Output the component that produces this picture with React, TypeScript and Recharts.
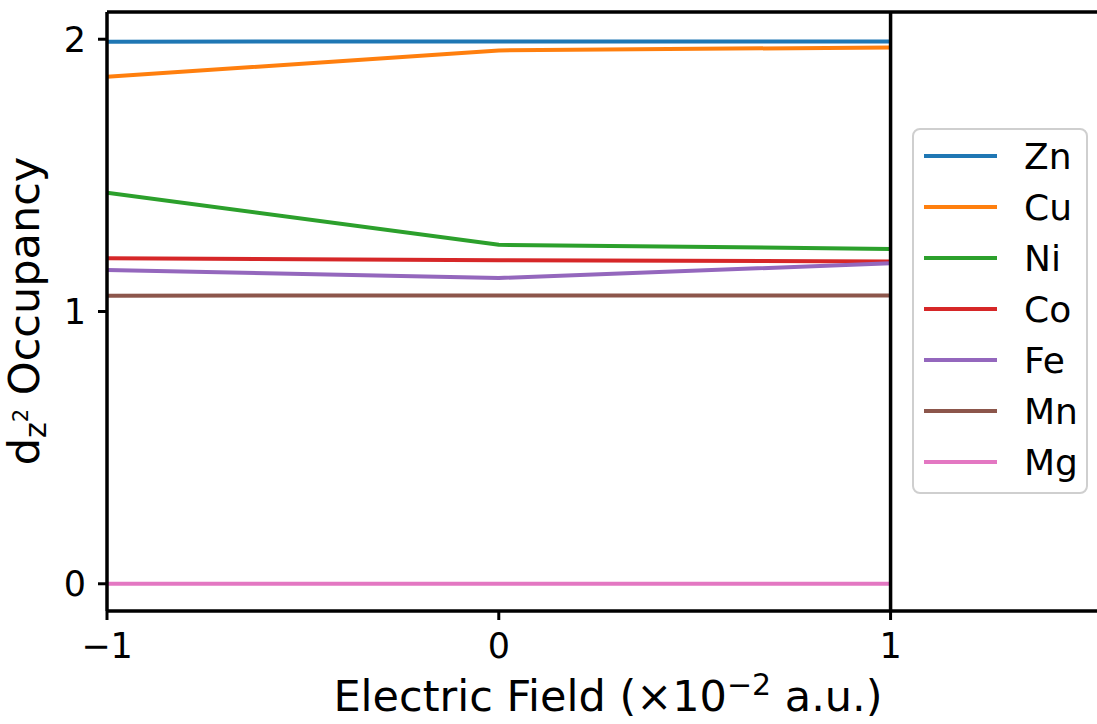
import React from 'react';
import { LineChart, Line, XAxis, YAxis, ReferenceLine, Legend } from 'recharts';

const fields = [-1, 0, 1];
const seriesNames = ['Zn', 'Cu', 'Ni', 'Co', 'Fe', 'Mn', 'Mg'];
const colors = ['#1f77b4', '#ff7f0e', '#2ca02c', '#d62728', '#9467bd', '#8c564b', '#e377c2'];
const Zn = [1.991, 1.992, 1.992];
const Cu = [1.862, 1.959, 1.970];
const Ni = [1.436, 1.245, 1.230];
const Co = [1.196, 1.188, 1.184];
const Fe = [1.152, 1.123, 1.177];
const Mn = [1.058, 1.059, 1.059];
const Mg = [0.0, 0.0, 0.0];
const xTicks = [-1, 0, 1];
const yTicks = [0, 1, 2];
const seriesValues = [Zn, Cu, Ni, Co, Fe, Mn, Mg];

const data = fields.map((f, i) => {
  const row: any = { x: f };
  seriesNames.forEach((n, k) => {
    row[n] = seriesValues[k][i];
  });
  return row;
});

const FONT = 'DejaVu Sans, sans-serif';

const XLabel = (props: any) => {
  const vb = props.viewBox || { x: 107, y: 611 };
  return (
    <text x={vb.x + 501} y={vb.y + 100} textAnchor="middle" fontFamily={FONT} fontSize={43} fill="#000">
      <tspan>Electric Field (×10</tspan>
      <tspan fontSize={30} dy={-16}>−2</tspan>
      <tspan dy={16}> a.u.)</tspan>
    </text>
  );
};

const YLabel = (props: any) => {
  const cx = 39;
  const cy = 311;
  return (
    <text
      x={cx}
      y={cy}
      transform={`rotate(-90, ${cx}, ${cy})`}
      textAnchor="middle"
      fontFamily={FONT}
      fontSize={43}
      fill="#000"
    >
      <tspan>d</tspan>
      <tspan fontSize={30} dy={7}>z</tspan>
      <tspan fontSize={21} dy={-18}>2</tspan>
      <tspan dy={11}> Occupancy</tspan>
    </text>
  );
};

const LegendBox = () => (
  <div
    style={{
      width: 176,
      height: 366,
      border: '2px solid #cfcfcf',
      borderRadius: 8,
      background: 'rgba(255,255,255,0.9)',
      boxSizing: 'border-box',
    }}
  >
    <svg width={172} height={362} style={{ display: 'block' }}>
      {seriesNames.map((n, i) => {
        const y = 26 + i * 51;
        return (
          <g key={n}>
            <line x1={10} x2={83} y1={y} y2={y} stroke={colors[i]} strokeWidth={4} />
            <text x={110} y={y + 13} fontFamily={FONT} fontSize={36} fill="#000">
              {n}
            </text>
          </g>
        );
      })}
    </svg>
  </div>
);

export default function App() {
  return (
    <div
      style={{
        position: 'absolute',
        left: 0,
        top: 0,
        width: 1097,
        height: 724,
        overflow: 'hidden',
        background: '#fff',
      }}
    >
      <LineChart
        width={1204}
        height={724}
        data={data}
        margin={{ top: 12, right: 0, bottom: 73, left: 0 }}
      >
        <XAxis
          dataKey="x"
          type="number"
          domain={[-1, 1.8]}
          ticks={xTicks}
          allowDataOverflow
          tickFormatter={(v: number) => (v < 0 ? `−${Math.abs(v)}` : `${v}`)}
          height={40}
          tickSize={9}
          tickMargin={13}
          axisLine={{ stroke: '#000', strokeWidth: 3.5 }}
          tickLine={{ stroke: '#000', strokeWidth: 3 }}
          tick={{ fontSize: 35, fill: '#000', fontFamily: FONT }}
          label={<XLabel />}
        />
        <YAxis
          type="number"
          domain={[-0.1, 2.1]}
          ticks={yTicks}
          allowDataOverflow
          width={107}
          tickSize={9}
          tickMargin={12}
          axisLine={{ stroke: '#000', strokeWidth: 3.5 }}
          tickLine={{ stroke: '#000', strokeWidth: 3 }}
          tick={{ fontSize: 35, fill: '#000', fontFamily: FONT }}
          label={<YLabel />}
        />
        {seriesNames.map((n, i) => (
          <Line
            key={n}
            dataKey={n}
            type="linear"
            stroke={colors[i]}
            strokeWidth={4}
            dot={false}
            activeDot={false}
            isAnimationActive={false}
          />
        ))}
        <ReferenceLine y={2.1} stroke="#000" strokeWidth={3.5} ifOverflow="visible" />
        <ReferenceLine x={1} stroke="#000" strokeWidth={3.5} />
        <Legend
          layout="vertical"
          align="center"
          verticalAlign="middle"
          content={<LegendBox />}
          wrapperStyle={{ left: 912, top: 128, width: 176, height: 366 }}
        />
      </LineChart>
    </div>
  );
}
